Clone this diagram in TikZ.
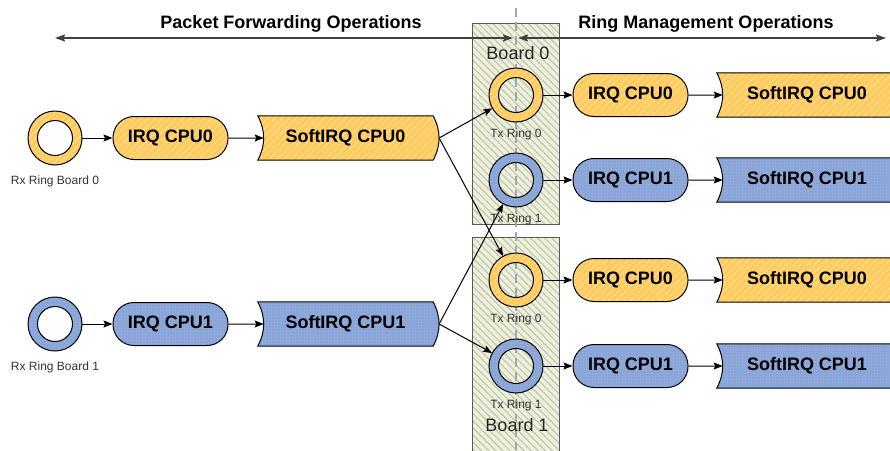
\documentclass[tikz,border=0pt]{standalone}
\usepackage{fontspec}
\setmainfont{Liberation Sans}
\usetikzlibrary{arrows.meta, positioning, patterns.meta, backgrounds}

\definecolor{cpuyellow}{HTML}{FFCA5F}
\definecolor{yellowstripe}{HTML}{FFE08A}
\definecolor{cpublue}{HTML}{8FAADA}
\definecolor{bluedot}{HTML}{7290C6}
\definecolor{boardfill}{HTML}{EDF0E0}
\definecolor{boardline}{HTML}{C2C9A3}
\definecolor{spangray}{HTML}{404040}
\definecolor{dividergray}{HTML}{A6A6A6}

\begin{document}
\begin{tikzpicture}[
    x=1pt, y=-1pt,
    every node/.style={font=\fontsize{18}{20}\selectfont},
    yellowfill/.style={preaction={fill=cpuyellow, even odd rule}, pattern={Lines[angle=45, distance=5pt, line width=1pt]}, pattern color=yellowstripe},
    bluefill/.style={preaction={fill=cpublue, even odd rule}, pattern={Dots[distance=3pt, radius=0.7pt]}, pattern color=bluedot},
    irq/.style={rectangle, rounded corners=21pt, draw, line width=1pt, minimum width=115pt, minimum height=43pt, inner sep=0pt, font=\fontsize{18}{20}\selectfont\bfseries},
    softirq/.style={rectangle, minimum width=175pt, minimum height=44pt, inner sep=0pt, font=\fontsize{18}{20}\selectfont\bfseries},
    softedge/.style={draw, line width=1pt},
    ring/.style={circle, minimum size=54pt, inner sep=0pt},
    ringband/.style={draw, line width=1pt, even odd rule},
    ringlabel/.style={font=\fontsize{12}{14}\selectfont, inner sep=1pt, text=black!80},
    board/.style={draw=black!65, line width=1pt, preaction={fill=boardfill}, pattern={Lines[angle=-45, distance=5pt, line width=1.2pt]}, pattern color=boardline},
    boardlabel/.style={font=\fontsize{18}{20}\selectfont, text=black!85},
    divider/.style={dividergray, line width=2.5pt, dash pattern=on 9pt off 5pt},
    conn/.style={-{Stealth[length=9pt, width=7pt, inset=1.5pt]}, line width=1pt},
    span/.style={{Stealth[length=10pt, width=7pt, inset=1.5pt]}-{Stealth[length=10pt, width=7pt, inset=1.5pt]}, line width=1.6pt, spangray},
    title/.style={font=\fontsize{18}{20}\selectfont\bfseries}
]
\useasboundingbox (0,0) rectangle (890,450);

% ============ BOARDS ============
\path[board] (472,23) rectangle (559,224);
\path[board] (472,237) rectangle (559,470);
\draw[divider] (516,8) -- (516,450);

\node[boardlabel] (board0) at (518,53) {Board 0};
\node[boardlabel] (board1) at (517,425) {Board 1};

% ============ OPERATION SPANS ============
\node[title] (fwdtitle) at (291,24) {Packet Forwarding Operations};
\node[title] (mgmttitle) at (706,24) {Ring Management Operations};

\coordinate (fwdL) at (55,38);
\coordinate (fwdR) at (513,38);
\coordinate (mgmtL) at (518,38);
\coordinate (mgmtR) at (886,38);
\draw[span] (fwdL) -- (fwdR);
\draw[span] (mgmtL) -- (mgmtR);

% ============ RINGS ============
\node[ring] (rx0) at (55,138) {};
\node[ring] (rx1) at (55,324) {};
\node[ring] (tx0) at (516,95) {};
\node[ring] (tx1) at (516,180) {};
\node[ring] (tx2) at (516,280) {};
\node[ring] (tx3) at (516,366) {};

\foreach \r/\f in {rx0/yellowfill, rx1/bluefill, tx0/yellowfill, tx1/bluefill, tx2/yellowfill, tx3/bluefill}
  \path[ringband, \f] (\r.center) circle (27) circle (17.5);

\node[ringlabel, below=9pt of rx0] (rx0lbl) {Rx Ring Board 0};
\node[ringlabel, below=9pt of rx1] (rx1lbl) {Rx Ring Board 1};
\node[ringlabel, below=5pt of tx0] (tx0lbl) {Tx Ring 0};
\node[ringlabel, below=5pt of tx1] (tx1lbl) {Tx Ring 1};
\node[ringlabel, below=5pt of tx2] (tx2lbl) {Tx Ring 0};
\node[ringlabel, below=5pt of tx3] (tx3lbl) {Tx Ring 1};

% ============ IRQ / SOFTIRQ ============
\node[irq, yellowfill] (irqL0) at (170.5,138) {IRQ CPU0};
\node[irq, bluefill] (irqL1) at (170.5,324) {IRQ CPU1};
\node[softirq] (softL0) at (345.5,138) {SoftIRQ CPU0};
\node[softirq] (softL1) at (345.5,324) {SoftIRQ CPU1};

\node[irq, yellowfill] (irqR0) at (630.5,95) {IRQ CPU0};
\node[irq, bluefill] (irqR1) at (630.5,180) {IRQ CPU1};
\node[irq, yellowfill] (irqR2) at (630.5,280) {IRQ CPU0};
\node[irq, bluefill] (irqR3) at (630.5,366) {IRQ CPU1};
\node[softirq, minimum width=180pt] (softR0) at (807,95) {SoftIRQ CPU0};
\node[softirq, minimum width=180pt] (softR1) at (807,180) {SoftIRQ CPU1};
\node[softirq, minimum width=180pt] (softR2) at (807,280) {SoftIRQ CPU0};
\node[softirq, minimum width=180pt] (softR3) at (807,366) {SoftIRQ CPU1};

% softirq outline: concave in, convex out
\begin{scope}[on background layer]
  \foreach \s/\f in {softL0/yellowfill, softL1/bluefill, softR0/yellowfill, softR1/bluefill, softR2/yellowfill, softR3/bluefill}
    \path[softedge, \f] (\s.north west) to[bend left=27] coordinate[midway] (\s-in) (\s.south west)
      -- (\s.south east) to[bend right=27] coordinate[midway] (\s-out) (\s.north east) -- cycle;
\end{scope}

% ============ CONNECTORS ============
\foreach \a/\b in {rx0/irqL0, irqL0/softL0-in, rx1/irqL1, irqL1/softL1-in,
                   tx0/irqR0, irqR0/softR0-in, tx1/irqR1, irqR1/softR1-in,
                   tx2/irqR2, irqR2/softR2-in, tx3/irqR3, irqR3/softR3-in}
  \draw[conn] (\a) -- (\b);

% forwarding to tx rings
\draw[conn] (softL0-out) -- (tx0);
\draw[conn] (softL0-out) -- (tx2);
\draw[conn] (softL1-out) -- (tx1);
\draw[conn] (softL1-out) -- (tx3);

\end{tikzpicture}
\end{document}
